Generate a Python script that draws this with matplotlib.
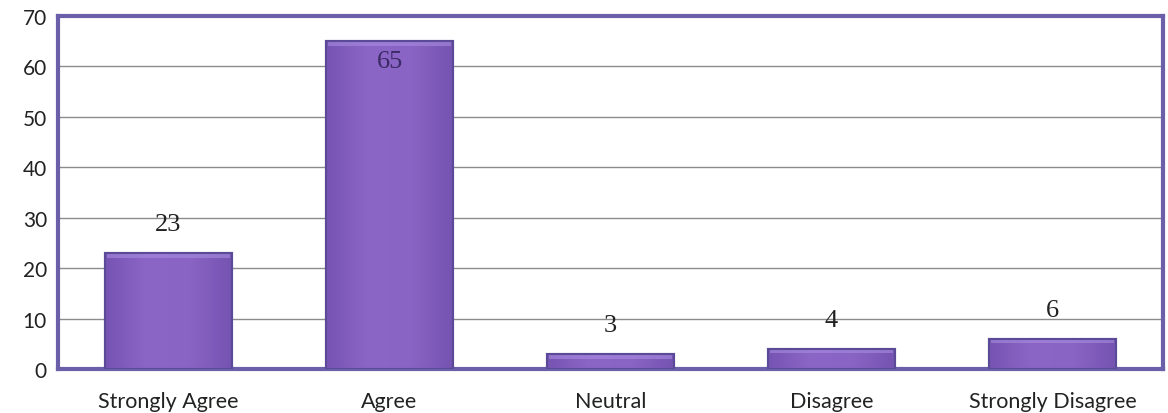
import numpy as np
import matplotlib
matplotlib.use("Agg")
import matplotlib.pyplot as plt
from matplotlib.colors import LinearSegmentedColormap

categories = ["Strongly Agree", "Agree", "Neutral", "Disagree", "Strongly Disagree"]
counts = [23, 65, 3, 4, 6]
yticks = [0, 10, 20, 30, 40, 50, 60, 70]

fig = plt.figure(figsize=(11.68, 4.14), dpi=100)
ax = fig.add_axes([0.0497, 0.106, 0.946, 0.853])

x = np.arange(len(categories))
bars = ax.bar(x, counts, width=0.575, color="#8861c1", edgecolor="#5a4a98",
              linewidth=1.5, zorder=3)

# gentle horizontal shading inside every bar
shade = LinearSegmentedColormap.from_list("shade", ["#7654b3", "#8c66c6", "#8a64c4", "#7453b1"])
grad = np.linspace(0, 1, 256).reshape(1, -1)
for b in bars:
    x0, y0 = b.get_x(), b.get_y()
    w, h = b.get_width(), b.get_height()
    im = ax.imshow(grad, cmap=shade, aspect="auto", extent=[x0, x0 + w, y0, y0 + h],
                   zorder=3.5, interpolation="bicubic")
    im.set_clip_path(b)
    # light strip along the top edge
    ax.add_patch(plt.Rectangle((x0 + 0.01, y0 + h - 0.9), w - 0.02, 0.7,
                               color="#a88ddf", alpha=0.6, lw=0, zorder=3.6))
    ax.add_patch(plt.Rectangle((x0, y0), w, h, fill=False, edgecolor="#5a4a98",
                               lw=1.5, zorder=3.7))

for xi, v in zip(x, counts):
    if v > 60:
        ax.text(xi, v - 4, str(v), ha="center", va="center", fontsize=19,
                family="Liberation Serif", color="#3b2a66", zorder=5)
    else:
        ax.text(xi, v + 5.8, str(v), ha="center", va="center", fontsize=19,
                family="Liberation Serif", color="#222222", zorder=5)

ax.set_xlim(-0.5, len(categories) - 0.5)
ax.set_ylim(0, 70)
ax.set_yticks(yticks)
ax.set_xticks(x)
ax.set_xticklabels(categories, fontsize=15.5, family="Lato", color="#222222")
ax.tick_params(axis="y", labelsize=15, labelcolor="#222222", length=0, pad=8)
ax.tick_params(axis="x", length=0, pad=16)
for lbl in ax.get_yticklabels():
    lbl.set_family("Lato")

ax.yaxis.grid(True, color="#8c8c8c", linewidth=1.0, zorder=0)
ax.set_axisbelow(True)
for s in ax.spines.values():
    s.set_color("#6a5fa8")
    s.set_linewidth(3)

fig.savefig("out.png", dpi=100, facecolor="white")
